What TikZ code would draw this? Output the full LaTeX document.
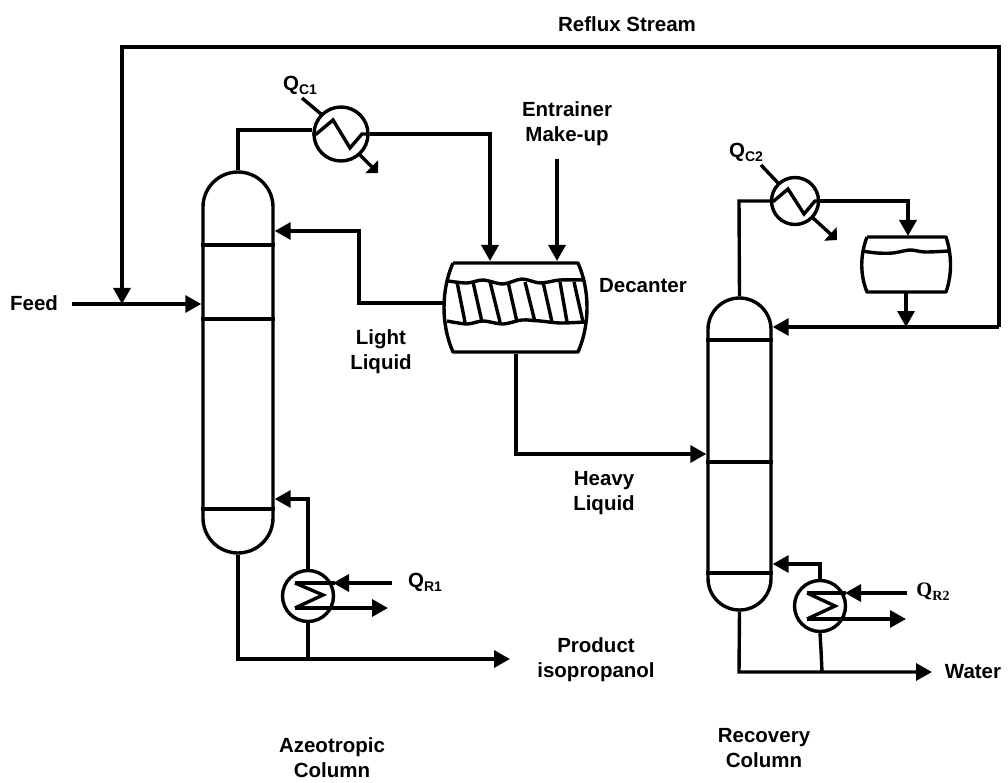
\documentclass[tikz,border=0pt]{standalone}
\usepackage{fontspec}
\setmainfont{Liberation Sans}
\newfontfamily\qserif{Liberation Serif}
\usetikzlibrary{positioning,calc,arrows.meta}
\newcommand{\duty}[2]{Q\raisebox{-4pt}{\fontsize{14}{14}\selectfont #1#2}}

\begin{document}
\begin{tikzpicture}[
  x=1pt,y=-1pt,
  every path/.style={line width=3.4pt,>={Triangle[length=16pt,width=17pt]}},
  tag/.style={font=\fontsize{20.5}{25}\selectfont\bfseries,align=center,inner sep=0pt},
  column/.style={draw,rectangle,minimum width=#1,rounded corners=0.5*#1},
  exch/.style={draw,circle,inner sep=0pt,minimum size=#1},
  vessel/.style={rectangle,inner sep=0pt},
  diag/.style={>={Triangle[length=9pt,width=18pt]}},
  ]
  \useasboundingbox (0,0) rectangle (1008,783);
  % columns
  \node[column=70pt,minimum height=381pt] (colA) at (238,362.5) {};
  \node[column=63pt,minimum height=312pt] (colB) at (739.5,454) {};
  \foreach \yy in {245,319,509}
    \draw (colA.west |- 0,\yy) -- (colA.east |- 0,\yy);
  \foreach \yy in {340,462,573}
    \draw (colB.west |- 0,\yy) -- (colB.east |- 0,\yy);
  % condensers and reboilers
  \node[exch=54pt] (condA) at (341,134) {};
  \node[exch=47pt] (condB) at (795,201) {};
  \node[exch=51pt] (rebA) at (308,596) {};
  \node[exch=51pt] (rebB) at (820,606) {};
  \draw (condA.west) -- ++(4,0) -- (333,120) -- (350,148) -- (362,134) -- (condA.east);
  \draw (condB.west) -- ++(4,0) -- (788,189) -- (804,214) -- (815,201) -- (condB.east);
  \draw (295,583) -- (323,595) -- (295,608);
  \draw (807,593) -- (835,606) -- (807,619);
  % decanter and drum
  \node[vessel,minimum width=142pt,minimum height=89pt] (decant) at (516,307.5) {};
  \node[vessel,minimum width=87pt,minimum height=55pt] (drum) at (905.5,264.5) {};
  \draw[line join=round] (453,263) -- (578,263) .. controls (590,290) and (590,325) .. (578,352) --
  (453,352) .. controls (441,325) and (441,290) .. (453,263);
  \draw plot[smooth] coordinates {(448,281) (467,283) (483,280) (503,284) (522,279) (540,283) (560,280) (585,280)};
  \draw plot[smooth] coordinates {(447,321) (467,324) (483,321) (503,324) (522,320) (540,321) (560,323) (585,322)};
  \foreach \xa/\xb in {457/465,473/482,490/500,508/517,525/535,543/552,560/567,574/583}
    \draw (\xa,282) -- (\xb,322);
  \draw[line join=round] (867,237) -- (946,237) .. controls (952,255) and (952,275) .. (946,292) --
  (867,292) .. controls (860,275) and (860,255) .. (867,237);
  \draw plot[smooth] coordinates {(862,251) (877,253) (893,253) (910,250) (925,252) (949,251)};
  % stream ends
  \coordinate (feedIn) at (72,304);
  \coordinate (makeUp) at (557,159);
  \coordinate (refluxTee) at (906,327);
  \coordinate (productEnd) at (510,659);
  \coordinate (waterEnd) at (932,672);
  % azeotropic column streams
  \draw (colA.north) -- (238,130) -- (condA.west |- 0,130);
  \draw[->] (condA.east) -- (490,134) -- (490,261);
  \draw[->] (makeUp) -- (557,261);
  \draw[->] (decant.west |- 0,303) -- (359,303) -- (359,231) -- (colA.east |- 0,231);
  \draw[->] (feedIn) -- (colA.west |- feedIn);
  \draw[->] (colA.south) -- (238,659) -- (productEnd);
  \draw (rebA.south) -- (308,659);
  \draw[->] (rebA.north) -- (308,499) -- (colA.east |- 0,499);
  \draw[->] (392,583) -- (333,583);
  \draw (295,583) -- (335,583);
  \draw[->] (295,608) -- (388,608);
  \draw (302,98) -- (321,114);
  \draw[diag,->] (360,155) -- (378,173);
  % recovery column streams
  \draw[->] (decant.south) -- (516,454) -- (colB.west |- 0,454);
  \draw (colB.north) -- (739,201) -- (condB.west);
  \draw[->] (condB.east) -- (908,201) -- (908,236);
  \draw[->] (906,292) -- (refluxTee);
  \draw[->] (999,327) -- (colB.east |- 0,327);
  \draw[->] (999,327) -- (999,47) -- (122,47) -- (122,304);
  \draw[->] (colB.south) -- (739,672) -- (waterEnd);
  \draw (rebB.south) -- (821,650) -- (822,672);
  \draw[->] (rebB.north) -- (820,564) -- (colB.east |- 0,564);
  \draw[->] (907,593) -- (845,593);
  \draw (807,593) -- (846,593);
  \draw[->] (807,619) -- (906,619);
  \draw (761,165) -- (778,183);
  \draw[diag,->] (813,218) -- (837,240);
  % labels
  \node[tag] (refluxLabel) at (627,24) {Reflux Stream};
  \node[tag] (feedLabel) at (34,303) {Feed};
  \node[tag] (qcA) at (300,85) {\duty{C}{1}};
  \node[tag] (makeUpLabel) at (567,124) {Entrainer\\Make-up};
  \node[tag] (qcB) at (746,152) {\duty{C}{2}};
  \node[tag] (decantLabel) at (643,286) {Decanter};
  \node[tag] (lightLabel) at (381,352) {Light\\Liquid};
  \node[tag] (heavyLabel) at (604,493) {Heavy\\Liquid};
  \node[tag] (qrA) at (425,582) {\duty{R}{1}};
  \node[tag] (qrB) at (933,592) {\qserif\duty{R}{2}};
  \node[tag] (productLabel) at (596,660) {Product\\isopropanol};
  \node[tag] (waterLabel) at (973,672) {Water};
  \node[tag] (colALabel) at (332,758) {Azeotropic\\Column};
  \node[tag] (colBLabel) at (764,748) {Recovery\\Column};
\end{tikzpicture}
\end{document}
